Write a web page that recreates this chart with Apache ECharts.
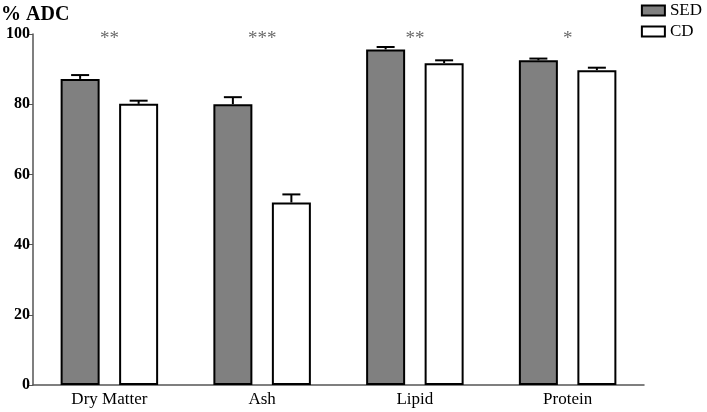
<!DOCTYPE html>
<html>
<head>
<meta charset="utf-8">
<script src="https://cdn.jsdelivr.net/npm/echarts@6/dist/echarts.min.js"></script>
<style>
  html, body { margin: 0; padding: 0; background: #fff; }
  #chart { width: 707px; height: 412px; }
</style>
</head>
<body>
<div id="chart"></div>
<script>
// data
var categories = ['Dry Matter', 'Ash', 'Lipid', 'Protein'];
var sedValues = [87.2, 80.0, 95.6, 92.5];
var sedErrors = [1.1, 2.0, 0.7, 0.5];
var cdValues = [80.1, 52.0, 91.7, 89.7];
var cdErrors = [0.9, 2.3, 0.8, 0.7];
var significance = ['**', '***', '**', '*'];
var yTicks = [0, 20, 40, 60, 80, 100];

var serif = '"Liberation Serif", "DejaVu Serif", serif';

// error bar drawn as vertical line + cap, shifted to the bar center
function errorBar(values, errors, offset) {
    return {
        type: 'custom',
        z: 5,
        silent: true,
        renderItem: function (params, api) {
            var i = api.value(0);
            var base = api.coord([i, api.value(1)]);
            var top = api.coord([i, api.value(1) + api.value(2)]);
            var x = base[0] + offset;
            var style = { stroke: '#000', lineWidth: 2 };
            return {
                type: 'group',
                children: [
                    { type: 'line', shape: { x1: x, y1: base[1], x2: x, y2: top[1] }, style: style },
                    { type: 'line', shape: { x1: x - 9, y1: top[1], x2: x + 9, y2: top[1] }, style: style }
                ]
            };
        },
        data: values.map(function (v, i) { return [i, v, errors[i]]; })
    };
}

var chart = echarts.init(document.getElementById('chart'));
var option = {
    animation: false,
    title: {
        text: '% ADC',
        left: -4,
        top: 0,
        textStyle: { fontFamily: serif, fontSize: 20, fontWeight: 'bold', color: '#000' }
    },
    legend: {
        orient: 'vertical',
        right: 0,
        top: -3,
        icon: 'rect',
        itemWidth: 23,
        itemHeight: 10,
        itemGap: 4,
        data: ['SED', 'CD'],
        textStyle: { fontFamily: serif, fontSize: 17, color: '#000' }
    },
    grid: { left: 33, right: 63, top: 34, bottom: 27 },
    xAxis: {
        type: 'category',
        data: categories,
        axisLine: { lineStyle: { color: '#555', width: 1.5 } },
        axisTick: { alignWithLabel: true, length: 4, lineStyle: { color: '#555' } },
        axisLabel: { fontFamily: serif, fontSize: 17, color: '#000', margin: 6 }
    },
    yAxis: {
        type: 'value',
        min: yTicks[0],
        max: yTicks[yTicks.length - 1],
        interval: 20,
        splitLine: { show: false },
        axisLine: { show: true, lineStyle: { color: '#555', width: 1.5 } },
        axisTick: { show: true, length: 4, lineStyle: { color: '#555' } },
        axisLabel: { fontFamily: serif, fontSize: 16, fontWeight: 'bold', color: '#000', margin: 3 }
    },
    series: [
        {
            name: 'SED',
            type: 'bar',
            data: sedValues,
            barWidth: 39,
            barGap: '50%',
            itemStyle: { color: '#808080', borderColor: '#000', borderWidth: 2 }
        },
        {
            name: 'CD',
            type: 'bar',
            data: cdValues,
            barWidth: 39,
            barGap: '50%',
            itemStyle: { color: '#fff', borderColor: '#000', borderWidth: 2 }
        },
        errorBar(sedValues, sedErrors, -29.25),
        errorBar(cdValues, cdErrors, 29.25),
        {
            type: 'scatter',
            symbolSize: 0,
            silent: true,
            data: significance.map(function (s, i) { return [i, 98.5]; }),
            label: {
                show: true,
                position: 'inside',
                fontFamily: serif,
                fontSize: 19,
                color: '#444',
                formatter: function (p) { return significance[p.dataIndex]; }
            }
        }
    ]
};
chart.setOption(option);
</script>
</body>
</html>
